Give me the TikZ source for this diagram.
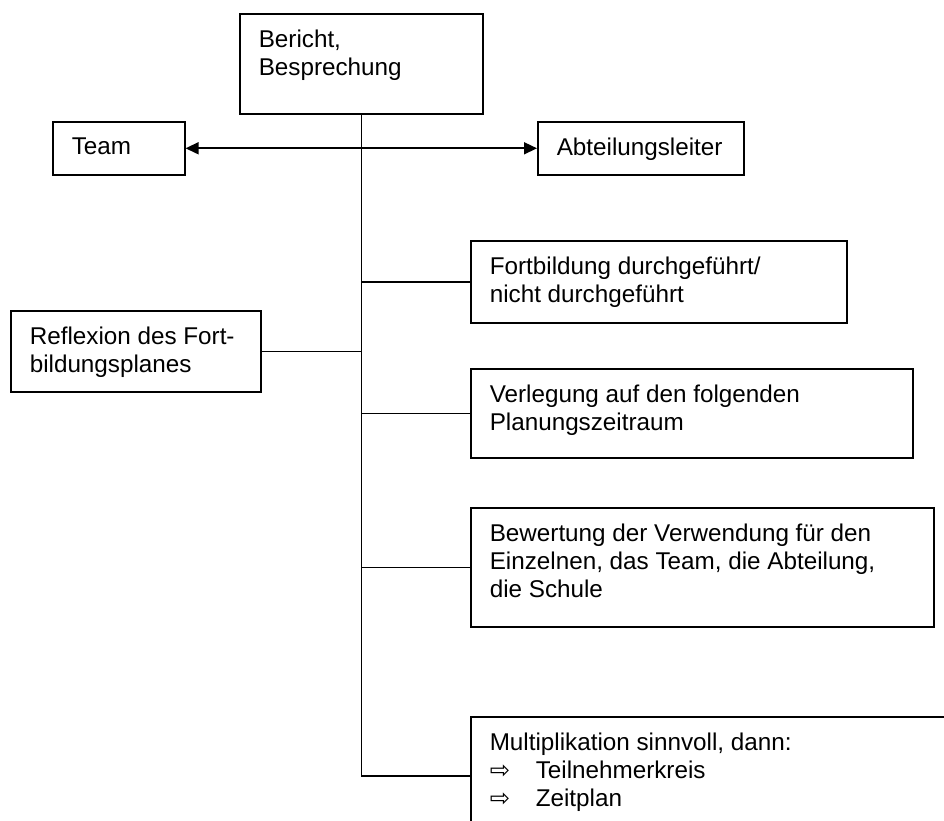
\documentclass[tikz,border=0pt]{standalone}
\usepackage{fontspec}
\setmainfont{Liberation Sans}
\newfontfamily\pfeilfont{DejaVu Sans}
\usepackage{xcolor}
\usetikzlibrary{arrows.meta}

\newlength{\px}
\setlength{\px}{0.02cm}
\newcommand{\boxtext}[3]{\parbox[t][\dimexpr #2\px-0.64cm\relax][t]{\dimexpr #1\px-0.76cm\relax}{#3}}
\newcommand{\pfeil}{\makebox[0.92cm][l]{\pfeilfont ⇨}}

\tikzset{
  box/.style={draw, line width=0.9pt, anchor=north west, inner xsep=0.38cm, inner ysep=0.32cm, font=\fontsize{13.8}{15.94}\selectfont},
  link/.style={line width=0.9pt},
  tip/.style={{Triangle[length=0.26cm, width=0.24cm]}-{Triangle[length=0.26cm, width=0.24cm]}}
}

\begin{document}
\begin{tikzpicture}[x=0.02cm, y=-0.02cm]
  \useasboundingbox (0,0) rectangle (944,821);
  \clip (0,0) rectangle (944,821);
  % Kopf und Adressaten
  \node[box] (bericht) at (239,13) {\boxtext{243}{100}{Bericht,\\Besprechung}};
  \node[box] (team) at (52,121) {\boxtext{132}{53}{Team}};
  \node[box] (abtl) at (537,121) {\boxtext{206}{53}{Abteilungsleiter}};
  % Punkte der Reflexion
  \node[box] (fortb) at (470,240) {\boxtext{376}{82}{Fortbildung durchgeführt/\\nicht durchgeführt}};
  \node[box] (reflex) at (10,310) {\boxtext{250}{81}{Reflexion des Fort-\\bildungsplanes}};
  \node[box] (verleg) at (470,368) {\boxtext{442}{89}{Verlegung auf den folgenden\\Planungszeitraum}};
  \node[box] (bewert) at (470,507) {\boxtext{463}{119}{Bewertung der Verwendung für den\\Einzelnen, das Team, die Abteilung,\\die Schule}};
  \node[box] (multi) at (470,716) {\boxtext{494}{118}{Multiplikation sinnvoll, dann:\\\pfeil Teilnehmerkreis\\\pfeil Zeitplan}};
  % Verbindungen
  \draw[link] (bericht.south) -- (bericht.south |- multi.west);
  \draw[link, tip] (team.east) -- (abtl.west);
  \draw[link] (fortb.west) -- (fortb.west -| bericht.south);
  \draw[link] (reflex.east) -- (reflex.east -| bericht.south);
  \draw[link] (verleg.west) -- (verleg.west -| bericht.south);
  \draw[link] (bewert.west) -- (bewert.west -| bericht.south);
  \draw[link] (multi.west) -- (multi.west -| bericht.south);
\end{tikzpicture}
\end{document}
